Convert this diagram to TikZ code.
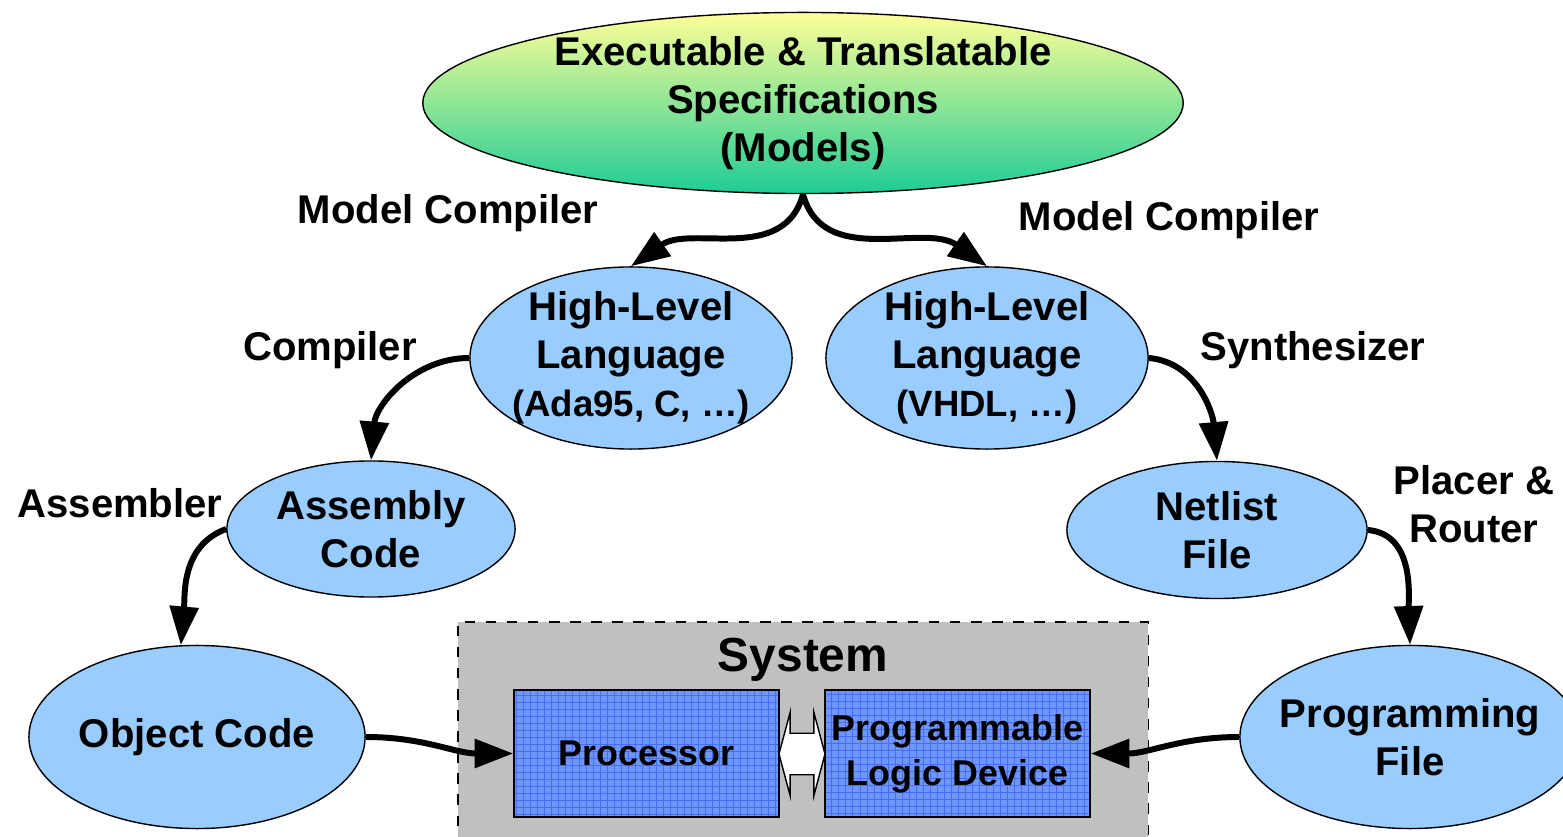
\documentclass[tikz,border=0pt]{standalone}
\usepackage{fontspec}
\setmainfont{Liberation Sans}
\usetikzlibrary{shapes.geometric,shapes.arrows,arrows.meta}
\definecolor{nodeblue}{RGB}{153,204,255}
\definecolor{specyellow}{RGB}{255,255,150}
\definecolor{specmid}{RGB}{195,238,140}
\definecolor{specgreen}{RGB}{30,204,150}
\definecolor{sysgray}{RGB}{192,192,192}
\definecolor{chipblue}{RGB}{110,150,252}
\definecolor{chipgrid}{RGB}{70,110,240}

\newcommand{\lang}[1]{{\fontsize{10.4}{13.6}\selectfont #1}}

\begin{document}
\begin{tikzpicture}[
    x = 0.01cm, y = -0.01cm,
    every node/.style = {font = \bfseries\fontsize{11.4}{13.6}\selectfont, align = center},
    stage/.style = {ellipse, draw, thin, fill = nodeblue, inner sep = -3pt},
    spec/.style = {ellipse, draw, thin, inner sep = -2pt, top color = specyellow, middle color = specmid, bottom color = specgreen},
    conn/.style = {line width = 1.7pt, -{Triangle[length = 11pt, width = 8pt]}},
    sysbox/.style = {draw, dashed, thin, fill = sysgray},
    chip/.style = {draw, fill = chipblue, minimum width = 2.65cm, minimum height = 1.27cm, inner sep = 0pt,
        font = \bfseries\fontsize{10.2}{12.8}\selectfont,
        path picture = {\draw[chipgrid, line width = 0.25pt, step = 0.07cm] (path picture bounding box.south west) grid (path picture bounding box.north east);}},
    ]

    \useasboundingbox (0,0) rectangle (1563,837);

    \node[spec, minimum width = 7.6cm, minimum height = 1.81cm] (spec) at (803,103) {Executable \& Translatable\\Specifications\\(Models)};
    \node[stage, minimum width = 3.22cm, minimum height = 1.82cm] (hllsw) at (631,358) {High-Level\\Language\\\lang{(Ada95, C, \ldots)}};
    \node[stage, minimum width = 3.22cm, minimum height = 1.82cm] (hllhw) at (987,358) {High-Level\\Language\\\lang{(VHDL, \ldots)}};
    \node[stage, minimum width = 2.88cm, minimum height = 1.36cm] (asm) at (371,529) {Assembly\\Code};
    \node[stage, minimum width = 3.0cm, minimum height = 1.37cm] (netlist) at (1217,530) {Netlist\\File};
    \node[stage, minimum width = 3.36cm, minimum height = 1.83cm] (obj) at (197,737) {Object Code};
    \node[stage, inner sep = -5pt, minimum width = 3.4cm, minimum height = 1.83cm] (prog) at (1410,737) {Programming\\File};

    \node[sysbox, minimum width = 6.9cm, minimum height = 2.4cm] (sys) at (803,742) {};
    \node[font = \bfseries\fontsize{13.6}{16}\selectfont] (systitle) at (803,660) {System};
    \node[chip] (proc) at (646.5,753.5) {Processor};
    \node[chip] (pld) at (957.5,753.5) {Programmable\\Logic Device};
    \node[double arrow, draw, thin, fill = white, double arrow tip angle = 150, double arrow head extend = 0.21cm,
        inner xsep = 0pt, inner ysep = 0.2cm, minimum height = 0.46cm] (link) at (802,754) {};

    \node (mcsw) at (448,213) {Model Compiler};
    \node (mchw) at (1169,220) {Model Compiler};
    \node (comp) at (330,350) {Compiler};
    \node (synth) at (1313,350) {Synthesizer};
    \node (assem) at (120,503) {Assembler};
    \node (placer) at (1474,504) {Placer \&\\Router};

    \draw[conn] (spec.south) to[out = -105, in = 35] (hllsw.north);
    \draw[conn] (spec.south) to[out = -75, in = 145] (hllhw.north);
    \draw[conn] (hllsw.west) to[out = 180, in = 85] (asm.north);
    \draw[conn] (asm.west) to[out = 200, in = 85] (obj.100);
    \draw[conn] (hllhw.east) to[out = -5, in = 95] (netlist.north);
    \draw[conn] (netlist.east) to[out = -5, in = 92] (prog.north);
    \draw[conn] (obj.east) to[out = 0, in = 180] (proc.west);
    \draw[conn] (prog.west) to[out = 180, in = 0] (pld.east);

\end{tikzpicture}
\end{document}
